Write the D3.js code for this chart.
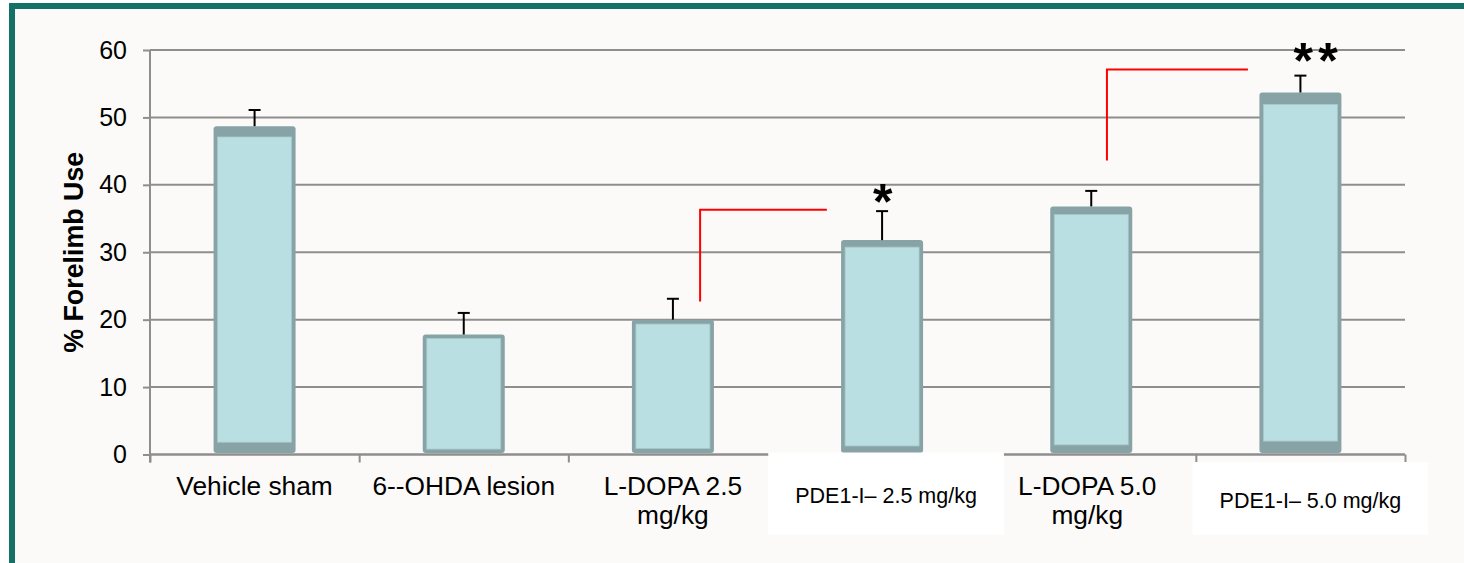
<!DOCTYPE html>
<html>
<head>
<meta charset="utf-8">
<script src="https://cdn.jsdelivr.net/npm/d3@7/dist/d3.min.js"></script>
<style>
  html, body { margin: 0; padding: 0; background: #ffffff; }
  svg { display: block; }
  text { font-family: "Liberation Sans", Arial, sans-serif; }
</style>
</head>
<body>
<svg id="chart" width="1464" height="563"></svg>
<script>
// Forelimb use per treatment group (mean ± SEM)
const categories = ["Vehicle sham", "6--OHDA lesion", "L-DOPA 2.5 mg/kg", "PDE1-I– 2.5 mg/kg", "L-DOPA 5.0 mg/kg", "PDE1-I– 5.0 mg/kg"];
const tickLines = [["Vehicle sham"], ["6--OHDA lesion"], ["L-DOPA 2.5", "mg/kg"], ["PDE1-I– 2.5 mg/kg"], ["L-DOPA 5.0", "mg/kg"], ["PDE1-I– 5.0 mg/kg"]];
const boxedLabels = ["PDE1-I– 2.5 mg/kg", "PDE1-I– 5.0 mg/kg"];
const meanUse = [48.7, 17.8, 20.0, 31.8, 36.8, 53.7];
const semUse = [2.4, 3.2, 3.1, 4.3, 2.3, 2.5];
const yTicks = [0, 10, 20, 30, 40, 50, 60];
const yTitle = "% Forelimb Use";

// Significance brackets: from the left group (at a fraction of its band) to the right group
const brackets = [
  { from: "L-DOPA 2.5 mg/kg", fromPos: 0.63, to: "PDE1-I– 2.5 mg/kg", toPos: 0.236, hi: 36.3, lo: 22.7 },
  { from: "L-DOPA 5.0 mg/kg", fromPos: 0.575, to: "PDE1-I– 5.0 mg/kg", toPos: 0.249, hi: 57.1, lo: 43.6 }
];
const stars = [
  { cat: "PDE1-I– 2.5 mg/kg", label: "*", at: 34.96 },
  { cat: "PDE1-I– 5.0 mg/kg", label: "**", at: 55.87 }
];

const svg = d3.select("#chart");
const W = 1464, H = 563;

// panel frame
svg.append("rect").attr("width", W).attr("height", H).attr("fill", "#ffffff");
svg.append("rect")
  .attr("x", 12).attr("y", 6).attr("width", W + 40).attr("height", H + 40)
  .attr("fill", "#fbfaf8").attr("stroke", "#137168").attr("stroke-width", 6);

const x0 = 150, x1 = 1405;
const y = d3.scaleLinear().domain([0, 60]).range([454.5, 50]);
const xCat = d3.scaleBand().domain(categories).range([x0, x1]).padding(0);
const step = xCat.step();
const xEdge = d3.scaleLinear().domain([0, categories.length]).range([x0, x1]);
const cx = c => xCat(c) + step / 2;

const gridColor = "#8e8e8e";

// horizontal gridlines
svg.append("g").selectAll("line").data(yTicks).join("line")
  .attr("x1", x0).attr("x2", x1)
  .attr("y1", d => y(d)).attr("y2", d => y(d))
  .attr("stroke", gridColor).attr("stroke-width", 2);

// y axis
const yAxis = svg.append("g").attr("transform", `translate(${x0},0)`)
  .call(d3.axisLeft(y).tickValues(yTicks).tickSize(7).tickPadding(16).tickFormat(d3.format("d")));
yAxis.select(".domain").attr("d", `M0,${y(60)}V${y(0) + 8}`).attr("stroke", gridColor).attr("stroke-width", 2);
yAxis.selectAll(".tick line").attr("stroke", gridColor).attr("stroke-width", 2);
yAxis.selectAll(".tick text").attr("font-size", 25).attr("fill", "#000")
  .attr("font-family", "Liberation Sans, Arial, sans-serif");

// x axis with ticks between categories
const xAxis = svg.append("g").attr("transform", `translate(0,${y(0)})`)
  .call(d3.axisBottom(xEdge).ticks(categories.length).tickSize(8).tickFormat(""));
xAxis.select(".domain").attr("d", `M${x0},0H${x1}`).attr("stroke", gridColor).attr("stroke-width", 2);
xAxis.selectAll(".tick line").attr("stroke", gridColor).attr("stroke-width", 2);

// y title
svg.append("text")
  .attr("transform", `translate(83,${(y(0) + y(60)) / 2 + 0}) rotate(-90)`)
  .attr("text-anchor", "middle").attr("font-size", 26.8).attr("font-weight", "bold")
  .text(yTitle);

// bars with bevelled top/bottom faces
const barW = 82, side = 4;
const bars = svg.append("g");
categories.forEach((c, i) => {
  const top = y(meanUse[i]);
  const bottom = y(0) - 1.5;
  const h = bottom - top;
  const bevel = Math.max(3, h * 0.033);
  const left = cx(c) - barW / 2;
  bars.append("rect")
    .attr("x", left).attr("y", top).attr("width", barW).attr("height", h)
    .attr("rx", 3).attr("fill", "#88a3a6");
  bars.append("rect")
    .attr("x", left + side).attr("y", top + bevel)
    .attr("width", barW - 2 * side).attr("height", h - 2 * bevel)
    .attr("fill", "#badfe2").attr("stroke", "#a6c7ca").attr("stroke-width", 0.8);
});

// error bars
const err = svg.append("g").attr("stroke", "#000").attr("stroke-width", 2);
categories.forEach((c, i) => {
  const yt = y(meanUse[i] + semUse[i]);
  err.append("line").attr("x1", cx(c)).attr("x2", cx(c)).attr("y1", y(meanUse[i])).attr("y2", yt);
  err.append("line").attr("x1", cx(c) - 6).attr("x2", cx(c) + 6).attr("y1", yt).attr("y2", yt);
});

// significance brackets
brackets.forEach(b => {
  const xa = xCat(b.from) + step * b.fromPos;
  const xb = xCat(b.to) + step * b.toPos;
  svg.append("path")
    .attr("d", `M${xa},${y(b.lo)}V${y(b.hi)}H${xb}`)
    .attr("fill", "none").attr("stroke", "#ff0000").attr("stroke-width", 2);
});

// significance stars
stars.forEach(s => {
  const multi = s.label.length > 1;
  svg.append("text")
    .attr("x", cx(s.cat) - (multi ? 7 : 9)).attr("y", y(s.at))
    .attr("font-size", 50).attr("font-weight", "bold")
    .attr("letter-spacing", multi ? 5.5 : 0)
    .text(s.label);
});

// category labels
const labels = svg.append("g");
categories.forEach((c, i) => {
  const lines = tickLines[i];
  if (boxedLabels.includes(c)) {
    const g = labels.append("g");
    const t = g.append("text")
      .attr("x", cx(c) + (i === 3 ? 4 : 10)).attr("y", i === 3 ? 502.7 : 508.3)
      .attr("text-anchor", "middle").attr("font-size", 21.5).text(lines[0]);
    const bb = t.node().getBBox();
    const topEdge = i === 3 ? y(0) - 2 : y(0) + 7.5;
    g.insert("rect", "text")
      .attr("x", bb.x - 27).attr("y", topEdge)
      .attr("width", bb.width + 54).attr("height", 535 - topEdge)
      .attr("fill", "#ffffff");
  } else {
    const t = labels.append("text")
      .attr("x", cx(c) - (lines.length > 1 && i === 4 ? 4 : 0)).attr("y", 495)
      .attr("text-anchor", "middle").attr("font-size", 26.3);
    lines.forEach((ln, k) => {
      t.append("tspan").attr("x", t.attr("x")).attr("dy", k === 0 ? 0 : 29).text(ln);
    });
  }
});
</script>
</body>
</html>
